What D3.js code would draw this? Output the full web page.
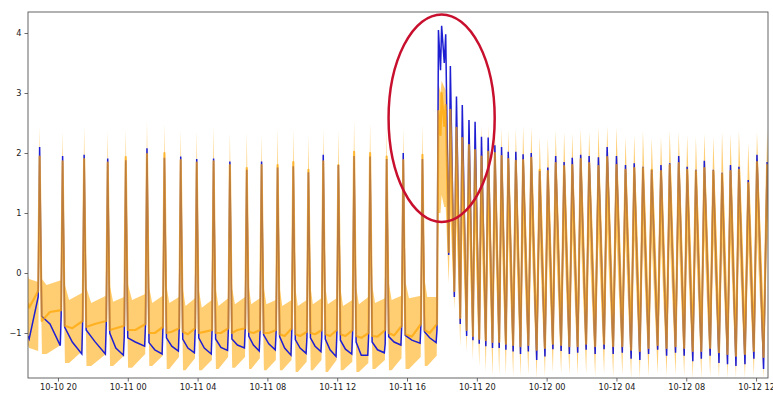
<!DOCTYPE html>
<html>
<head>
<meta charset="utf-8">
<script src="https://cdn.jsdelivr.net/npm/d3@7"></script>
<style>
  body { margin: 0; background: #fff; }
  svg { display: block; font-family: "DejaVu Sans", sans-serif; }
</style>
</head>
<body>
<div id="chart"></div>
<script>
// ---- data ----
const xStart = "10-10 18:17";
const xEnd = "10-12 12:41";
const yTicks = [-1, 0, 1, 2, 3, 4];

// lead-in before the first spike
const leadTimes = ["10-10 18:17", "10-10 18:21", "10-10 18:52"];
const leadBlue = [-1.05, -1.10, -0.40];
const leadOrange = [-0.50, -0.58, -0.30];
const leadBandLo = [-1.20, -1.25, -1.30];
const leadBandHi = [-0.05, -0.10, -0.15];

// first regime: roughly hourly spikes
const spikeTimes1 = ["10-10 18:57", "10-10 20:16", "10-10 21:30", "10-10 22:51", "10-10 23:53",
  "10-11 01:06", "10-11 02:06", "10-11 03:02", "10-11 03:57", "10-11 04:55", "10-11 05:51",
  "10-11 06:49", "10-11 07:40", "10-11 08:35", "10-11 09:29", "10-11 10:21", "10-11 11:12",
  "10-11 12:04", "10-11 12:58", "10-11 13:53", "10-11 14:50", "10-11 15:47", "10-11 16:53"];
const bluePeak1 = [2.10, 1.95, 1.97, 1.91, 1.88, 2.08, 1.92, 1.94, 1.90, 1.91, 1.86, 1.72,
  1.86, 1.76, 1.78, 1.68, 1.97, 1.80, 1.95, 1.94, 1.90, 2.00, 1.90];
const blueDrop1 = [-0.72, -0.90, -0.95, -1.00, -1.08, -1.16, -1.08, -1.10, -1.08, -1.10, -1.10,
  -1.05, -1.03, -1.06, -1.11, -1.08, -1.10, -1.12, -1.15, -1.15, -1.06, -1.04, -0.98];
const blueMid1 = [-0.85, -1.15, -1.14, -1.25, -1.15, -1.28, -1.22, -1.25, -1.25, -1.24, -1.20,
  -1.20, -1.18, -1.25, -1.25, -1.22, -1.28, -1.27, -1.37, -1.28, -1.15, -1.12, -1.08];
const blueLow1 = [-1.21, -1.35, -1.35, -1.37, -1.22, -1.35, -1.30, -1.33, -1.35, -1.29, -1.25,
  -1.30, -1.28, -1.37, -1.34, -1.31, -1.39, -1.35, -1.37, -1.33, -1.20, -1.17, -1.16];
const bluePre1 = [-0.70, -0.78, -0.86, -1.05, -0.85, -0.90, -0.90, -0.92, -0.92, -0.92, -0.90,
  -0.95, -0.98, -0.95, -1.07, -1.06, -0.99, -0.99, -1.05, -1.18, -0.86, -0.84, -0.95];
const orangePeak1 = [1.94, 1.86, 1.90, 1.84, 1.93, 1.98, 2.00, 1.88, 1.84, 1.86, 1.80, 1.75,
  1.80, 1.80, 1.85, 1.72, 1.86, 1.80, 2.02, 2.00, 1.94, 1.88, 1.97];
const orangeDrop1 = [-0.80, -0.88, -0.90, -0.95, -0.95, -1.00, -1.00, -0.98, -1.00, -1.00, -1.00,
  -0.98, -1.00, -1.02, -1.02, -1.00, -1.02, -1.02, -1.05, -1.05, -1.00, -1.02, -0.95];
const orangeMid1 = [-0.65, -0.92, -0.85, -0.92, -0.95, -1.00, -0.98, -1.02, -0.98, -1.00, -0.95,
  -1.00, -1.00, -1.05, -1.05, -1.02, -1.05, -1.05, -1.08, -1.06, -1.04, -1.06, -1.00];
const orangePre1 = [-0.62, -0.80, -0.80, -0.88, -0.85, -0.90, -0.92, -0.92, -0.95, -0.92, -0.92,
  -0.95, -0.95, -0.92, -0.98, -0.95, -0.95, -0.95, -1.00, -0.95, -0.88, -0.85, -0.85];
const bandTop1 = [2.44, 2.36, 2.44, 2.37, 2.40, 2.52, 2.48, 2.38, 2.36, 2.44, 2.33, 2.34,
  2.30, 2.41, 2.40, 2.30, 2.40, 2.38, 2.55, 2.50, 2.41, 2.41, 2.47];
const bandLoPeak1 = [0.90, 0.80, 0.90, 0.80, 0.90, 1.00, 0.95, 0.85, 0.80, 0.90, 0.80, 0.75,
  0.80, 0.85, 0.85, 0.70, 0.85, 0.80, 1.00, 0.95, 0.90, 0.90, 0.95];
const bandHiAfter1 = [-0.10, -0.20, -0.25, -0.22, -0.20, -0.25, -0.25, -0.28, -0.30, -0.28, -0.26,
  -0.25, -0.25, -0.27, -0.28, -0.25, -0.25, -0.28, -0.25, -0.22, -0.18, -0.15, -0.12];
const bandHiMid1 = [-0.20, -0.45, -0.50, -0.48, -0.45, -0.50, -0.50, -0.55, -0.58, -0.55, -0.52,
  -0.52, -0.52, -0.55, -0.55, -0.52, -0.52, -0.55, -0.52, -0.50, -0.45, -0.42, -0.40];
const bandHiBefore1 = [-0.12, -0.33, -0.38, -0.40, -0.35, -0.38, -0.40, -0.42, -0.45, -0.42, -0.40,
  -0.42, -0.45, -0.45, -0.45, -0.42, -0.42, -0.45, -0.40, -0.42, -0.38, -0.38, -0.40];
const bandLoAfter1 = [-1.35, -1.50, -1.55, -1.55, -1.58, -1.55, -1.60, -1.62, -1.62, -1.60, -1.58,
  -1.60, -1.62, -1.62, -1.65, -1.62, -1.65, -1.62, -1.65, -1.60, -1.62, -1.60, -1.55];
const bandLoBefore1 = [-1.20, -1.30, -1.35, -1.38, -1.35, -1.38, -1.40, -1.42, -1.45, -1.40, -1.40,
  -1.42, -1.45, -1.45, -1.48, -1.45, -1.45, -1.48, -1.50, -1.45, -1.42, -1.40, -1.38];

// second regime: the jump, then half-hourly spikes
const spikeTimes2 = ["10-11 17:48", "10-11 17:59", "10-11 18:13", "10-11 18:29", "10-11 18:50",
  "10-11 19:10", "10-11 19:33", "10-11 19:54", "10-11 20:16", "10-11 20:39", "10-11 21:02",
  "10-11 21:25", "10-11 21:48", "10-11 22:14", "10-11 22:39", "10-11 23:07", "10-11 23:36",
  "10-12 00:04", "10-12 00:31", "10-12 01:00", "10-12 01:28", "10-12 01:57", "10-12 02:26",
  "10-12 02:58", "10-12 03:28", "10-12 04:00", "10-12 04:31", "10-12 05:01", "10-12 05:31",
  "10-12 06:01", "10-12 06:33", "10-12 07:03", "10-12 07:34", "10-12 08:03", "10-12 08:33",
  "10-12 09:02", "10-12 09:33", "10-12 10:03", "10-12 10:32", "10-12 11:01", "10-12 11:33",
  "10-12 12:03", "10-12 12:38"];
const bluePeak2 = [4.05, 4.12, 3.98, 3.45, 2.94, 2.80, 2.55, 2.52, 2.27, 2.26, 2.13, 2.10, 2.02,
  2.02, 1.98, 2.00, 1.70, 1.76, 1.95, 1.85, 1.92, 1.97, 1.95, 1.93, 2.10, 1.95, 1.80, 1.83, 1.77,
  1.72, 1.80, 1.83, 1.95, 1.77, 1.72, 1.87, 1.72, 1.67, 1.80, 1.77, 1.55, 1.97, 1.85];
const blueTrough2 = [3.38, 3.50, 0.30, -0.40, -0.85, -1.05, -1.12, -1.18, -1.22, -1.25, -1.25,
  -1.28, -1.31, -1.35, -1.31, -1.45, -1.39, -1.27, -1.30, -1.35, -1.33, -1.28, -1.35, -1.27, -1.35,
  -1.33, -1.43, -1.45, -1.35, -1.28, -1.38, -1.33, -1.38, -1.47, -1.43, -1.38, -1.50, -1.52, -1.55,
  -1.52, -1.43, -1.60, -1.75];
const orangePeak2 = [2.70, 3.00, 2.80, 2.72, 2.42, 2.25, 2.13, 2.05, 1.94, 2.02, 2.00, 1.95, 1.90,
  1.87, 1.88, 1.92, 1.72, 1.70, 1.83, 1.78, 1.80, 1.90, 1.83, 1.78, 1.93, 1.80, 1.72, 1.75, 1.75,
  1.72, 1.70, 1.80, 1.83, 1.72, 1.70, 1.75, 1.70, 1.65, 1.70, 1.72, 1.50, 1.85, 1.80];
const orangeTrough2 = [2.30, 2.45, 0.35, -0.30, -0.75, -0.95, -1.05, -1.10, -1.12, -1.15, -1.15,
  -1.18, -1.20, -1.22, -1.20, -1.28, -1.25, -1.18, -1.20, -1.22, -1.22, -1.18, -1.22, -1.18, -1.22,
  -1.22, -1.28, -1.30, -1.25, -1.20, -1.25, -1.22, -1.25, -1.30, -1.30, -1.25, -1.32, -1.35, -1.38,
  -1.35, -1.30, -1.40, -1.55];
const bandTop2 = [3.17, 3.20, 3.05, 2.90, 2.75, 2.60, 2.50, 2.48, 2.45, 2.45, 2.40, 2.42, 2.38,
  2.40, 2.45, 2.43, 2.27, 2.25, 2.37, 2.35, 2.33, 2.40, 2.35, 2.43, 2.45, 2.43, 2.27, 2.30, 2.37,
  2.25, 2.27, 2.37, 2.35, 2.30, 2.27, 2.32, 2.27, 2.35, 2.32, 2.37, 2.17, 2.35, 2.37];
const bandLoPeak2 = [1.00, 1.30, 1.10, 1.00, 0.90, 0.80, 0.75, 0.70, 0.65, 0.70, 0.70, 0.65, 0.60,
  0.60, 0.62, 0.65, 0.50, 0.50, 0.60, 0.58, 0.60, 0.65, 0.60, 0.58, 0.68, 0.60, 0.52, 0.55, 0.55,
  0.52, 0.50, 0.58, 0.60, 0.52, 0.50, 0.55, 0.50, 0.45, 0.50, 0.52, 0.35, 0.62, 0.60];
const bandHiTrough2 = [3.00, 3.10, 1.30, 0.60, 0.05, -0.15, -0.25, -0.30, -0.35, -0.40, -0.40,
  -0.43, -0.45, -0.45, -0.43, -0.50, -0.47, -0.40, -0.43, -0.45, -0.45, -0.41, -0.45, -0.41, -0.45,
  -0.45, -0.50, -0.53, -0.47, -0.43, -0.47, -0.45, -0.47, -0.53, -0.53, -0.47, -0.55, -0.57, -0.60,
  -0.57, -0.53, -0.63, -0.75];
const bandBottom2 = [1.00, 1.10, -0.17, -0.60, -1.23, -1.31, -1.45, -1.56, -1.64, -1.72, -1.70,
  -1.70, -1.72, -1.72, -1.70, -1.75, -1.72, -1.65, -1.68, -1.70, -1.70, -1.68, -1.72, -1.68, -1.72,
  -1.70, -1.75, -1.75, -1.72, -1.68, -1.72, -1.70, -1.72, -1.75, -1.75, -1.72, -1.75, -1.75, -1.75,
  -1.75, -1.72, -1.75, -1.80];

// hand-drawn red ring round the jump (data units)
const ringCentre = ["10-11 17:59", 2.58];
const ringHalfHours = 3.04;
const ringHalfValue = 1.73;

// ---- build series ----
const parseTime = d3.timeParse("%m-%d %H:%M");
const MIN = 60000;
const addMin = (d, m) => new Date(+d + m * MIN);
const between = (a, b, f) => new Date(+a + (b - a) * f);

const blue = [], orange = [], band = [];

leadTimes.forEach((s, i) => {
  const t = parseTime(s);
  blue.push({ t, v: leadBlue[i] });
  orange.push({ t, v: leadOrange[i] });
  band.push({ t, lo: leadBandLo[i], hi: leadBandHi[i] });
});

spikeTimes1.forEach((s, k) => {
  const t = parseTime(s);
  const next = parseTime(k < spikeTimes1.length - 1 ? spikeTimes1[k + 1] : spikeTimes2[0]);
  blue.push(
    { t, v: bluePeak1[k] },
    { t: addMin(t, 7), v: blueDrop1[k] },
    { t: between(t, next, 0.45), v: blueMid1[k] },
    { t: addMin(next, -8), v: blueLow1[k] },
    { t: addMin(next, -5), v: bluePre1[k] }
  );
  orange.push(
    { t, v: orangePeak1[k] },
    { t: addMin(t, 7), v: orangeDrop1[k] },
    { t: between(t, next, 0.45), v: orangeMid1[k] },
    { t: addMin(next, -5), v: orangePre1[k] }
  );
  band.push(
    { t, lo: bandLoPeak1[k], hi: bandTop1[k] },
    { t: addMin(t, 8), lo: bandLoAfter1[k], hi: bandHiAfter1[k] },
    { t: between(t, next, 0.3), lo: bandLoAfter1[k], hi: bandHiMid1[k] },
    { t: addMin(next, -6), lo: bandLoBefore1[k], hi: bandHiBefore1[k] }
  );
});

spikeTimes2.forEach((s, i) => {
  const t = parseTime(s);
  const next = i < spikeTimes2.length - 1 ? parseTime(spikeTimes2[i + 1]) : addMin(t, 30);
  const tr = between(t, next, 0.65);
  blue.push({ t, v: bluePeak2[i] }, { t: tr, v: blueTrough2[i] });
  orange.push({ t, v: orangePeak2[i] }, { t: tr, v: orangeTrough2[i] });
  band.push(
    { t, lo: bandLoPeak2[i], hi: bandTop2[i] },
    { t: tr, lo: bandBottom2[i], hi: bandHiTrough2[i] }
  );
});

// ---- chart ----
const width = 773, height = 394;
const margin = { top: 12, right: 5, bottom: 16, left: 28 };
const innerW = width - margin.left - margin.right;
const innerH = height - margin.top - margin.bottom;

const svg = d3.select("#chart").append("svg")
  .attr("width", width)
  .attr("height", height);

const x = d3.scaleTime()
  .domain([parseTime(xStart), parseTime(xEnd)])
  .range([0, innerW]);
const y = d3.scaleLinear()
  .domain([-1.75, 4.35])
  .range([innerH, 0]);

const g = svg.append("g").attr("transform", `translate(${margin.left},${margin.top})`);

g.append("defs").append("clipPath").attr("id", "plot-clip")
  .append("rect").attr("width", innerW).attr("height", innerH);

const plot = g.append("g").attr("clip-path", "url(#plot-clip)");

plot.append("path")
  .datum(band)
  .attr("fill", "#ffa500")
  .attr("fill-opacity", 0.55)
  .attr("d", d3.area().x(d => x(d.t)).y0(d => y(d.lo)).y1(d => y(d.hi)));

plot.append("path")
  .datum(blue)
  .attr("fill", "none")
  .attr("stroke", "#1e1ed2")
  .attr("stroke-width", 1.5)
  .attr("d", d3.line().x(d => x(d.t)).y(d => y(d.v)));

plot.append("path")
  .datum(orange)
  .attr("fill", "none")
  .attr("stroke", "#ffa500")
  .attr("stroke-opacity", 0.7)
  .attr("stroke-width", 2.2)
  .attr("stroke-linejoin", "round")
  .attr("d", d3.line().x(d => x(d.t)).y(d => y(d.v)));

// axes
const xAxis = d3.axisBottom(x)
  .ticks(d3.timeHour.every(4))
  .tickFormat(d3.timeFormat("%m-%d %H"))
  .tickSize(3.5).tickSizeOuter(0).tickPadding(2.5);
const yAxis = d3.axisLeft(y)
  .tickValues(yTicks)
  .tickFormat(d => d < 0 ? "\u2212" + Math.abs(d) : d)
  .tickSize(3.5).tickSizeOuter(0).tickPadding(3);

const gx = g.append("g").attr("transform", `translate(0,${innerH})`).call(xAxis);
const gy = g.append("g").call(yAxis);
[gx, gy].forEach(a => {
  a.select(".domain").remove();
  a.selectAll("line").attr("stroke", "#444").attr("stroke-width", 0.8);
  a.selectAll("text").attr("fill", "#222").style("font-size", "8.2px")
    .style("font-family", "DejaVu Sans, sans-serif");
});

g.append("rect")
  .attr("width", innerW).attr("height", innerH)
  .attr("fill", "none").attr("stroke", "#555").attr("stroke-width", 0.9);

// red ring annotation
const rc = parseTime(ringCentre[0]);
g.append("ellipse")
  .attr("cx", x(rc))
  .attr("cy", y(ringCentre[1]))
  .attr("rx", x(addMin(rc, ringHalfHours * 60)) - x(rc))
  .attr("ry", y(0) - y(ringHalfValue))
  .attr("fill", "none")
  .attr("stroke", "#c8102e")
  .attr("stroke-width", 2.5);
</script>
</body>
</html>
